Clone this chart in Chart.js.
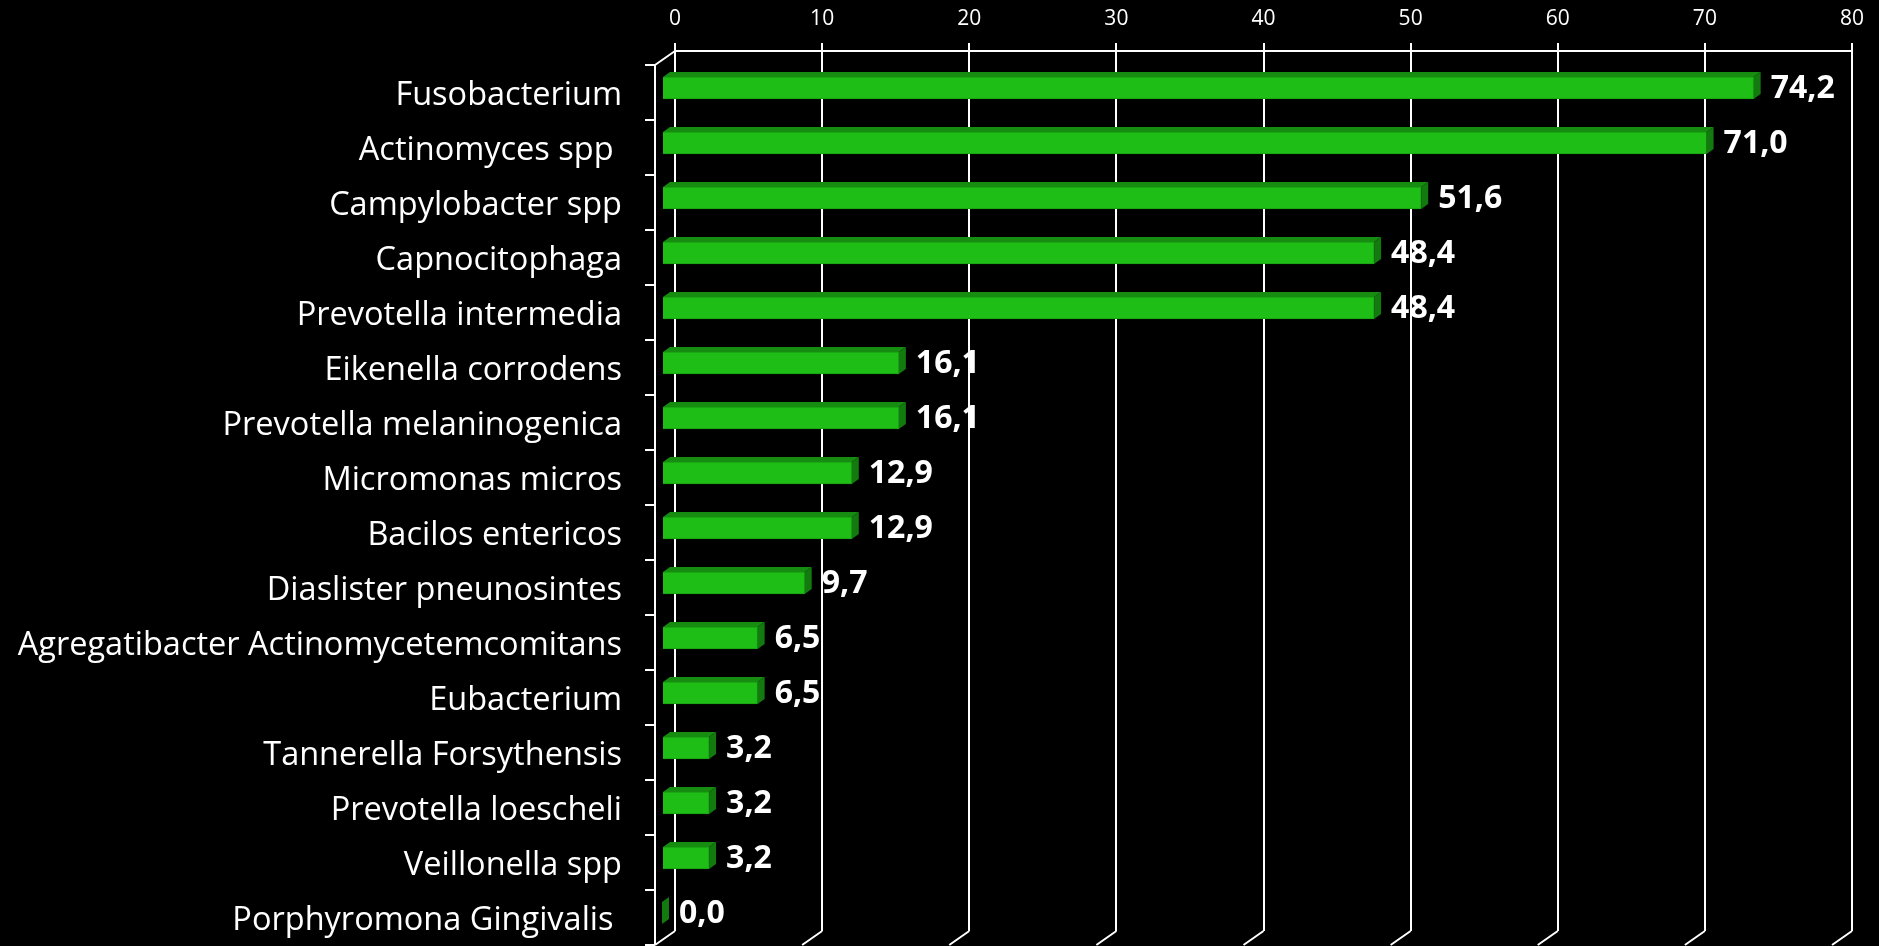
<!DOCTYPE html>
<html>
<head>
<meta charset="utf-8">
<title>Bactérias</title>
<script src="https://cdn.jsdelivr.net/npm/chart.js@4/dist/chart.umd.min.js"></script>
<style>
  html, body { margin: 0; padding: 0; background: #000; }
  #wrap { width: 1879px; height: 946px; position: relative; }
</style>
</head>
<body>
<div id="wrap"><canvas id="bactChart"></canvas></div>
<script>
// Categorias (eixo vertical, de cima para baixo)
const bacterias = [
  'Fusobacterium',
  'Actinomyces spp ',
  'Campylobacter spp',
  'Capnocitophaga',
  'Prevotella intermedia',
  'Eikenella corrodens',
  'Prevotella melaninogenica',
  'Micromonas micros',
  'Bacilos entericos',
  'Diaslister pneunosintes',
  'Agregatibacter Actinomycetemcomitans',
  'Eubacterium',
  'Tannerella Forsythensis',
  'Prevotella loescheli',
  'Veillonella spp',
  'Porphyromona Gingivalis '
];

// Frequência (%)
const frequencia = [74.2, 71.0, 51.6, 48.4, 48.4, 16.1, 16.1, 12.9, 12.9, 9.7, 6.5, 6.5, 3.2, 3.2, 3.2, 0.0];

// Eixo de valores
const escalaMin = 0;
const escalaMax = 80;
const escalaPasso = 10;

document.addEventListener('DOMContentLoaded', function() {
    const ctx = document.getElementById('bactChart').getContext('2d');

    // profundidade da "caixa" 3D (parede do fundo -> frente)
    const PROF_X = -20, PROF_Y = 14;
    // deslocamento da face frontal das barras e espessura da barra
    const BARRA_X = -13, BARRA_Y = 9.5;
    const FUNDO_X = 7, FUNDO_Y = 5;

    const verde = 'rgb(30, 190, 23)';
    const verdeTopo = 'rgb(22, 140, 17)';
    const verdeLado = 'rgb(18, 122, 14)';
    const branco = '#ffffff';

    const fmt = v => v.toFixed(1).replace('.', ',');

    // Paredes em perspectiva: eixo frontal à esquerda e diagonais
    const paredes3d = {
        id: 'paredes3d',
        afterDraw(chart) {
            const { ctx, chartArea: { top, bottom, left }, scales: { x } } = chart;
            ctx.save();
            ctx.strokeStyle = branco;
            ctx.lineWidth = 2;
            ctx.beginPath();
            // diagonais no pé de cada linha de grade
            x.ticks.forEach(t => {
                const px = x.getPixelForValue(t.value);
                ctx.moveTo(px, bottom);
                ctx.lineTo(px + PROF_X, bottom + PROF_Y);
            });
            // canto superior esquerdo
            ctx.moveTo(left, top);
            ctx.lineTo(left + PROF_X, top + PROF_Y);
            // eixo das categorias (frente)
            const ex = left + PROF_X;
            ctx.moveTo(ex, top + PROF_Y);
            ctx.lineTo(ex, bottom + PROF_Y);
            // marcas entre categorias
            const passo = (bottom - top) / bacterias.length;
            for (let i = 0; i <= bacterias.length; i++) {
                const py = top + PROF_Y + i * passo;
                ctx.moveTo(ex - 10, py);
                ctx.lineTo(ex, py);
            }
            ctx.stroke();
            ctx.restore();
        }
    };

    // Barras em 3D: desloca a face frontal e desenha topo, lateral e rótulos
    const barras3d = {
        id: 'barras3d',
        beforeDatasetsDraw(chart) {
            chart.ctx.save();
            chart.ctx.translate(BARRA_X, BARRA_Y);
        },
        afterDatasetsDraw(chart) {
            const ctx = chart.ctx;
            ctx.restore();
            const meta = chart.getDatasetMeta(0);
            ctx.save();
            meta.data.forEach((bar, i) => {
                const p = bar.getProps(['x', 'y', 'base', 'height'], true);
                const x0 = p.base + BARRA_X;
                const x1 = p.x + BARRA_X;
                const yT = p.y - p.height / 2 + BARRA_Y;
                const yB = p.y + p.height / 2 + BARRA_Y;

                // topo
                ctx.fillStyle = verdeTopo;
                ctx.beginPath();
                ctx.moveTo(x0, yT);
                ctx.lineTo(x1, yT);
                ctx.lineTo(x1 + FUNDO_X, yT - FUNDO_Y);
                ctx.lineTo(x0 + FUNDO_X, yT - FUNDO_Y);
                ctx.closePath();
                ctx.fill();

                // lateral
                ctx.fillStyle = verdeLado;
                ctx.beginPath();
                ctx.moveTo(x1, yT);
                ctx.lineTo(x1 + FUNDO_X, yT - FUNDO_Y);
                ctx.lineTo(x1 + FUNDO_X, yB - FUNDO_Y);
                ctx.lineTo(x1, yB);
                ctx.closePath();
                ctx.fill();

                // rótulo do valor
                ctx.fillStyle = branco;
                ctx.font = "bold 32px 'Open Sans', sans-serif";
                ctx.textAlign = 'left';
                ctx.textBaseline = 'middle';
                ctx.fillText(fmt(frequencia[i]), x1 + FUNDO_X + 10, p.y + BARRA_Y + 1);
            });
            ctx.restore();
        }
    };

    new Chart(ctx, {
        type: 'bar',
        data: {
            labels: bacterias,
            datasets: [{
                label: 'Frequência (%)',
                data: frequencia,
                backgroundColor: verde,
                borderColor: 'rgb(24, 160, 18)',
                borderWidth: 1,
                barThickness: 22
            }]
        },
        options: {
            indexAxis: 'y',
            responsive: true,
            maintainAspectRatio: false,
            animation: false,
            layout: { padding: { top: 0, left: 0, right: 27, bottom: 15 } },
            scales: {
                x: {
                    position: 'top',
                    min: escalaMin,
                    max: escalaMax,
                    afterFit(scale) { scale.height = 51; },
                    ticks: {
                        stepSize: escalaPasso,
                        color: branco,
                        padding: 11,
                        font: { family: "'Open Sans', sans-serif", size: 21 }
                    },
                    grid: {
                        color: branco,
                        lineWidth: 2,
                        tickLength: 8
                    },
                    border: { display: true, color: branco, width: 2 }
                },
                y: {
                    afterFit(scale) {
                        scale.width = 675;
                        scale.paddingTop = 0;
                        scale.paddingBottom = 0;
                    },
                    ticks: {
                        color: branco,
                        padding: 45,
                        labelOffset: 17.5,
                        font: { family: "'Open Sans', sans-serif", size: 32.5 }
                    },
                    grid: { display: false },
                    border: { display: false }
                }
            },
            plugins: {
                legend: { display: false },
                tooltip: { enabled: false }
            }
        },
        plugins: [barras3d, paredes3d]
    });
});
</script>
</body>
</html>
